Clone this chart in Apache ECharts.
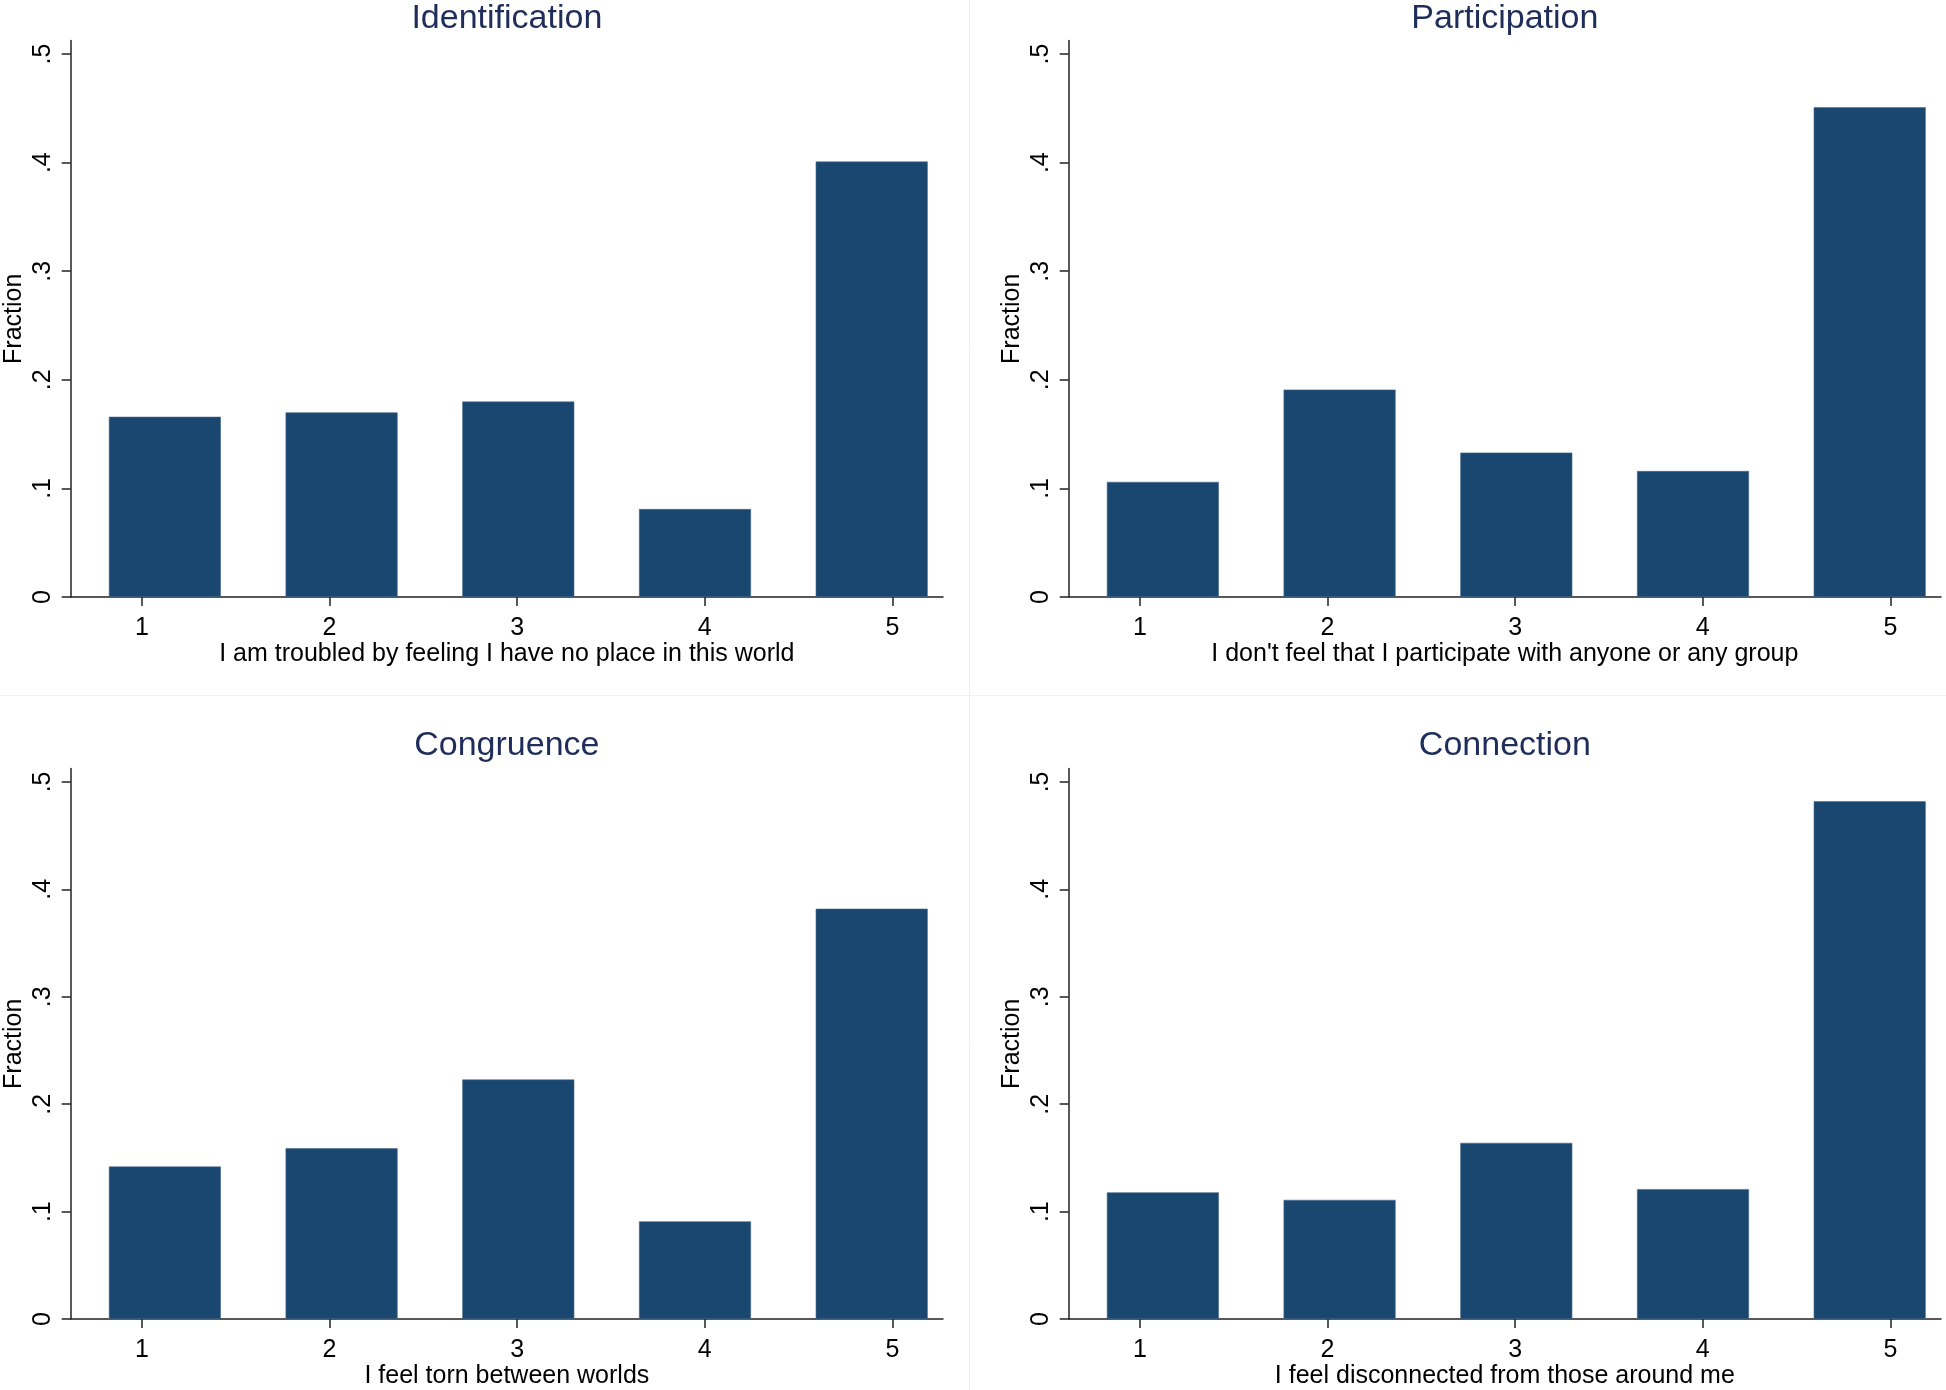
<!DOCTYPE html>
<html>
<head>
<meta charset="utf-8">
<title>Belonging items</title>
<script src="https://cdn.jsdelivr.net/npm/echarts@6/dist/echarts.min.js"></script>
<style>
  html, body {
    margin: 0;
    padding: 0;
    background: #fff;
  }
  #chart1 {
    width: 1946px;
    height: 1390px;
  }
</style>
</head>
<body>
<div id="chart1"></div>
<script>
  // panel titles and x axis questions
  var panelTitles = ['Identification', 'Participation', 'Congruence', 'Connection'];
  var questions = [
    'I am troubled by feeling I have no place in this world',
    "I don't feel that I participate with anyone or any group",
    'I feel torn between worlds',
    'I feel disconnected from those around me'
  ];

  // x ticks and where the bins sit on that scale
  var xTicks = [1, 2, 3, 4, 5];
  var binCenters = [1.122, 2.064, 3.006, 3.948, 4.89];
  var yTicks = [0, 0.1, 0.2, 0.3, 0.4, 0.5];

  // fraction per answer
  var identification = [0.166, 0.170, 0.180, 0.081, 0.401];
  var participation = [0.106, 0.191, 0.133, 0.116, 0.451];
  var congruence = [0.142, 0.159, 0.223, 0.091, 0.382];
  var connection = [0.118, 0.111, 0.164, 0.121, 0.482];

  var panelData = [identification, participation, congruence, connection];

  var chart1 = echarts.init(document.getElementById('chart1'));

  var navy = '#1a476f';
  var font = 'Liberation Sans, Arial, sans-serif';

  // grid boxes (px): left column / right column, top row / bottom row
  var lefts = [70.7, 1068.7, 70.7, 1068.7];
  var tops = [40.5, 40.5, 768.5, 768.5];
  var plotW = 872.3;
  var plotH = 556.5;

  var grids = [], xAxes = [], yAxes = [], series = [], titles = [];

  for (var i = 0; i < 4; i++) {
    grids.push({
      left: lefts[i],
      top: tops[i],
      width: plotW,
      height: plotH,
      containLabel: false
    });

    titles.push({
      text: panelTitles[i],
      left: lefts[i] + plotW / 2,
      top: i < 2 ? 2 : 729,
      textAlign: 'center',
      padding: 0,
      textStyle: {
        fontFamily: font,
        fontSize: 34,
        fontWeight: 'normal',
        color: '#1e2d5a'
      }
    });

    xAxes.push({
      gridIndex: i,
      type: 'value',
      min: 0.62,
      max: 5.27,
      name: questions[i],
      nameLocation: 'middle',
      nameGap: 44,
      nameTextStyle: {fontFamily: font, fontSize: 25, color: '#000'},
      axisLine: {show: true, onZero: false, lineStyle: {color: '#222', width: 1.5}},
      axisTick: {show: true, length: 9, customValues: xTicks, lineStyle: {color: '#222', width: 1.5}},
      axisLabel: {
        customValues: xTicks,
        margin: 19,
        fontFamily: font,
        fontSize: 25,
        color: '#000'
      },
      splitLine: {show: false}
    });

    yAxes.push({
      gridIndex: i,
      type: 'value',
      min: 0,
      max: 0.5125,
      name: 'Fraction',
      nameLocation: 'middle',
      nameGap: 44,
      nameTextStyle: {fontFamily: font, fontSize: 25, color: '#000'},
      axisLine: {show: true, lineStyle: {color: '#222', width: 1.5}},
      axisTick: {show: true, length: 9, customValues: yTicks, lineStyle: {color: '#222', width: 1.5}},
      axisLabel: {
        customValues: yTicks,
        rotate: 90,
        margin: 15,
        fontFamily: font,
        fontSize: 25,
        color: '#000',
        formatter: function (v) {
          if (v === 0) return '0';
          return v.toFixed(1).replace(/^0/, '');
        }
      },
      splitLine: {show: false}
    });

    series.push({
      type: 'bar',
      xAxisIndex: i,
      yAxisIndex: i,
      barWidth: 112,
      itemStyle: {color: navy, borderColor: '#46698c', borderWidth: 0.6},
      data: binCenters.map(function (x, j) {
        return [x, panelData[i][j]];
      })
    });
  }

  var option1 = {
    backgroundColor: '#fff',
    animation: false,
    title: titles,
    grid: grids,
    xAxis: xAxes,
    yAxis: yAxes,
    series: series,
    // faint frame lines between the four panels
    graphic: [
      {type: 'line', shape: {x1: 969.5, y1: 0, x2: 969.5, y2: 1390}, style: {stroke: '#f0f0f0', lineWidth: 1}, z: -1},
      {type: 'line', shape: {x1: 0, y1: 695.5, x2: 1946, y2: 695.5}, style: {stroke: '#f0f0f0', lineWidth: 1}, z: -1}
    ]
  };

  chart1.setOption(option1);
</script>
</body>
</html>
